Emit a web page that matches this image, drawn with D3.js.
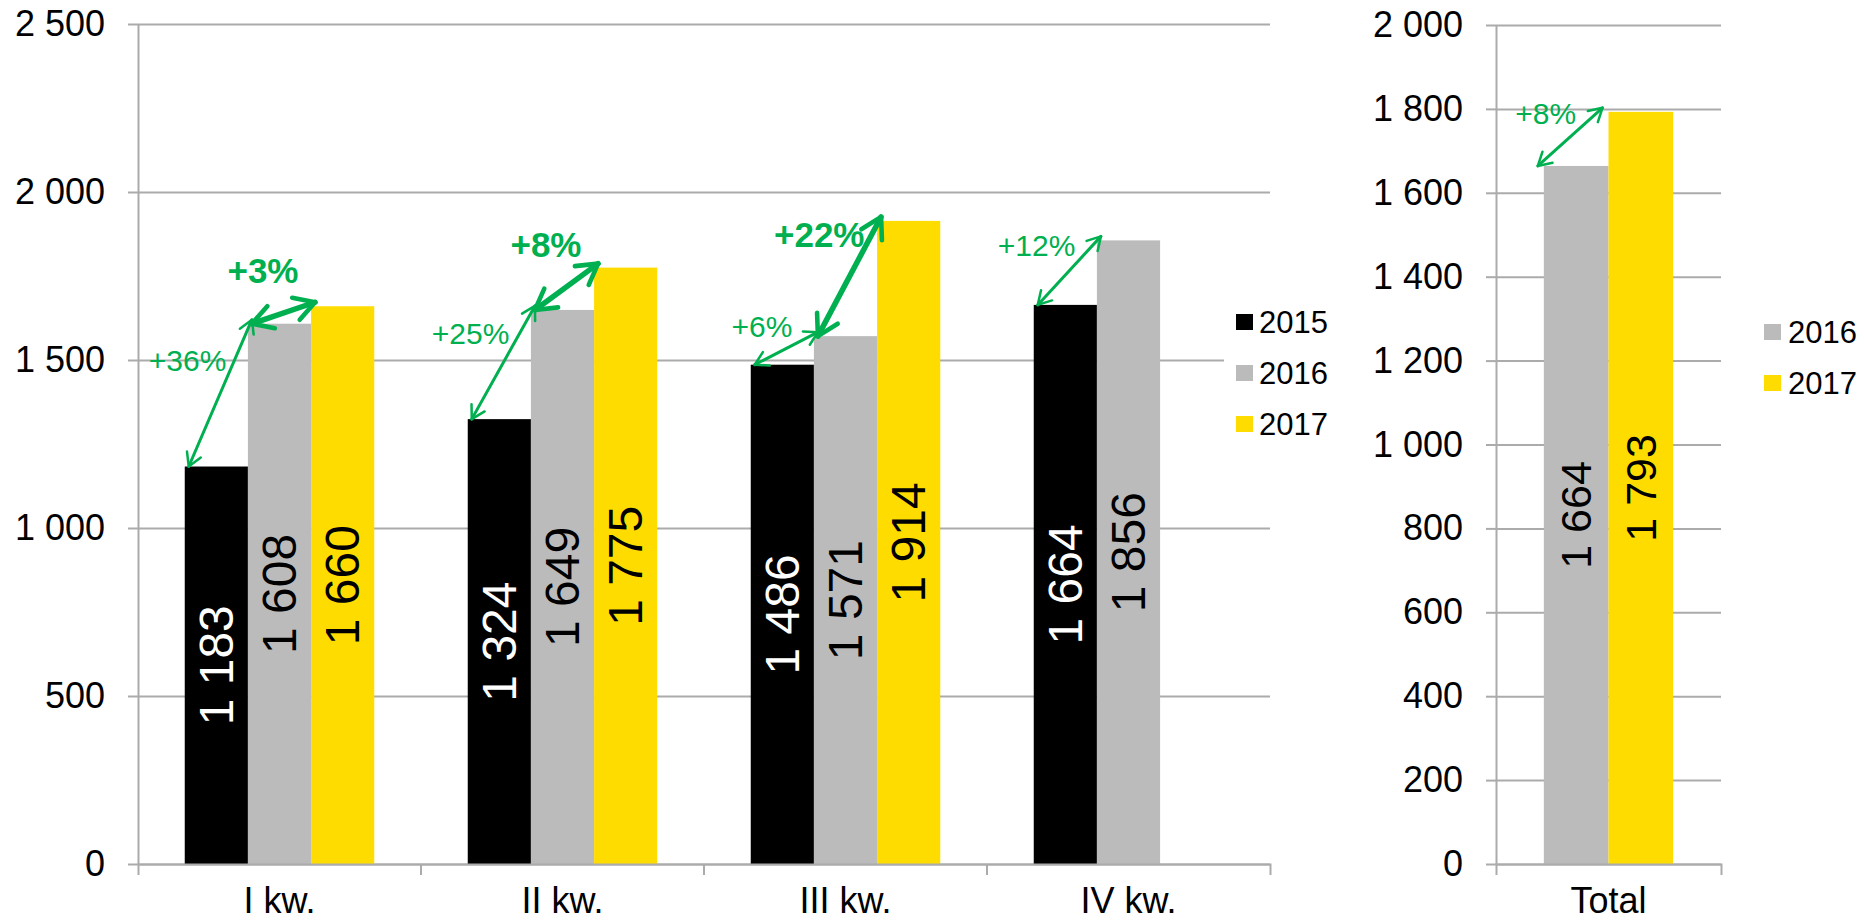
<!DOCTYPE html>
<html>
<head>
<meta charset="utf-8">
<script src="https://cdnjs.cloudflare.com/ajax/libs/d3/7.8.5/d3.min.js"></script>
<style>
  body { margin: 0; background: #fff; }
  svg { display: block; font-family: "Liberation Sans", Arial, sans-serif; }
  .grid line { stroke: #ABABAB; stroke-width: 2; }
  .grid path { display: none; }
  .axis path, .axis line, .bound { stroke: #ABABAB; stroke-width: 2; }
  .axis text { fill: #000; font-size: 36px; font-family: "Liberation Sans", Arial, sans-serif; }
  .legend text { font-size: 31px; fill: #000; }
  .change { fill: none; stroke: #00B050; stroke-linecap: round; stroke-linejoin: round; }
  .change-label { fill: #00B050; }
</style>
</head>
<body>
<div id="chart"></div>
<script>
// dane
var quarters = ["I kw.", "II kw.", "III kw.", "IV kw."];
var years = ["2015", "2016", "2017"];
var values2015 = [1183, 1324, 1486, 1664];
var values2016 = [1608, 1649, 1571, 1856];
var values2017 = [1660, 1775, 1914, null];
var leftTicks = [0, 500, 1000, 1500, 2000, 2500];

var totalCategory = ["Total"];
var totalYears = ["2016", "2017"];
var totalValues2016 = [1664];
var totalValues2017 = [1793];
var rightTicks = [0, 200, 400, 600, 800, 1000, 1200, 1400, 1600, 1800, 2000];

// strzałki: kwartał, seria od, seria do, etykieta
var quarterChanges = [
  {q: 0, from: 0, to: 1, label: "+36%", bold: false},
  {q: 0, from: 1, to: 2, label: "+3%", bold: true},
  {q: 1, from: 0, to: 1, label: "+25%", bold: false},
  {q: 1, from: 1, to: 2, label: "+8%", bold: true},
  {q: 2, from: 0, to: 1, label: "+6%", bold: false},
  {q: 2, from: 1, to: 2, label: "+22%", bold: true},
  {q: 3, from: 0, to: 1, label: "+12%", bold: false}
];
var totalChanges = [
  {q: 0, from: 0, to: 1, label: "+8%", bold: false}
];

var W = 1864, H = 922;
var svg = d3.select("#chart").append("svg").attr("width", W).attr("height", H);

var fmt = d3.formatLocale({decimal: ",", thousands: " ", grouping: [3], currency: ["", ""]}).format(",d");
var color = d3.scaleOrdinal().domain(years).range(["#000000", "#BBBBBB", "#FFDC00"]);
var labelColor = d3.scaleOrdinal().domain(years).range(["#FFFFFF", "#000000", "#000000"]);

// groty strzałek
var defs = svg.append("defs");
[["thin", 18], ["bold", 28]].forEach(function(m) {
  var L = m[1], a = Math.PI / 6;
  defs.append("marker")
    .attr("id", "head-" + m[0])
    .attr("markerUnits", "userSpaceOnUse")
    .attr("orient", "auto-start-reverse")
    .attr("markerWidth", 2 * L).attr("markerHeight", 2 * L)
    .attr("refX", 0).attr("refY", 0)
    .attr("viewBox", (-L * 1.2) + " " + (-L * 1.2) + " " + (2.4 * L) + " " + (2.4 * L))
    .style("overflow", "visible")
    .append("path")
    .attr("d", "M" + (-L * Math.cos(a)) + "," + (-L * Math.sin(a)) + " L0,0 L" + (-L * Math.cos(a)) + "," + (L * Math.sin(a)))
    .attr("fill", "none")
    .attr("stroke", "#00B050")
    .attr("stroke-width", m[0] === "bold" ? 5.5 : 3)
    .attr("stroke-linecap", "round")
    .attr("stroke-linejoin", "round");
});

function drawPanel(p) {
  var g = svg.append("g");
  var x = d3.scaleBand().domain(p.cats).range([p.box.x0, p.box.x1]);
  var xs = d3.scaleBand().domain(p.years).range([0, x.bandwidth()]).paddingInner(0).paddingOuter(0.74);
  var y = d3.scaleLinear().domain([0, p.max]).range([p.box.y0, p.box.y1]);
  var w = p.box.x1 - p.box.x0;

  var rows = p.cats.map(function(c, i) {
    return {cat: c, vals: p.years.map(function(yr, j) { return {year: yr, value: p.series[j][i]}; })};
  });

  // siatka
  g.append("g")
    .attr("class", "grid")
    .attr("transform", "translate(" + p.box.x0 + ",0)")
    .call(d3.axisLeft(y).tickValues(p.ticks).tickSize(-w).tickFormat(""));

  // słupki
  var grp = g.selectAll(".grp").data(rows).enter().append("g")
    .attr("transform", function(d) { return "translate(" + x(d.cat) + ",0)"; });

  var bars = grp.selectAll("rect")
    .data(function(d) { return d.vals.filter(function(v) { return v.value != null; }); })
    .enter();

  bars.append("rect")
    .attr("x", function(d) { return xs(d.year); })
    .attr("y", function(d) { return y(d.value); })
    .attr("width", xs.bandwidth())
    .attr("height", function(d) { return y(0) - y(d.value); })
    .attr("fill", function(d) { return color(d.year); });

  bars.append("text")
    .attr("transform", function(d) {
      var cx = xs(d.year) + xs.bandwidth() / 2, cy = (y(d.value) + y(0)) / 2;
      return "translate(" + cx + "," + cy + ") rotate(-90)";
    })
    .attr("text-anchor", "middle")
    .attr("dy", "0.35em")
    .attr("font-size", p.labelSize)
    .attr("fill", function(d) { return labelColor(d.year); })
    .text(function(d) { return fmt(d.value); });

  // oś Y
  g.append("g")
    .attr("class", "axis")
    .attr("transform", "translate(" + p.box.x0 + ",0)")
    .call(d3.axisLeft(y).tickValues(p.ticks).tickSize(10).tickSizeOuter(0).tickPadding(23).tickFormat(fmt));

  // oś X
  g.append("g")
    .attr("class", "axis")
    .attr("transform", "translate(0," + p.box.y0 + ")")
    .call(d3.axisBottom(x).tickSize(0).tickSizeOuter(11).tickPadding(23));

  g.selectAll(".bound")
    .data(p.cats.slice(1))
    .enter().append("line")
    .attr("class", "bound")
    .attr("x1", function(d) { return x(d); })
    .attr("x2", function(d) { return x(d); })
    .attr("y1", p.box.y0)
    .attr("y2", p.box.y0 + 11);

  // strzałki ze zmianą procentową
  p.changes.forEach(function(c) {
    var r = rows[c.q];
    var a = r.vals[c.from], b = r.vals[c.to];
    var x1 = x(r.cat) + xs(a.year) + p.arrowDx, y1 = y(a.value);
    var x2 = x(r.cat) + xs(b.year) + p.arrowDx, y2 = y(b.value) - 4;
    var kind = c.bold ? "bold" : "thin";
    g.append("line")
      .attr("class", "change")
      .attr("x1", x1).attr("y1", y1)
      .attr("x2", x2).attr("y2", y2)
      .attr("stroke-width", c.bold ? 5.5 : 3)
      .attr("marker-start", "url(#head-" + kind + ")")
      .attr("marker-end", "url(#head-" + kind + ")");
    var mx = (x1 + x2) / 2, my = (y1 + y2) / 2;
    var tx = mx + (c.bold ? 15 : 6);
    // dla cienkich strzałek etykieta leży tuż nad linią
    var ty = c.bold ? my - 30 : y1 + (y2 - y1) * (tx - x1) / (x2 - x1) - 8;
    g.append("text")
      .attr("class", "change-label")
      .attr("text-anchor", "end")
      .attr("x", tx)
      .attr("y", ty)
      .attr("font-size", c.bold ? 35 : 30)
      .attr("font-weight", c.bold ? "bold" : "normal")
      .text(c.label);
  });
}

drawPanel({
  cats: quarters, years: years, series: [values2015, values2016, values2017],
  ticks: leftTicks, max: 2500,
  box: {x0: 138, x1: 1270, y0: 864, y1: 24},
  labelSize: 48, changes: quarterChanges, arrowDx: 4
});

drawPanel({
  cats: totalCategory, years: totalYears, series: [totalValues2016, totalValues2017],
  ticks: rightTicks, max: 2000,
  box: {x0: 1496, x1: 1721, y0: 864, y1: 25},
  labelSize: 43, changes: totalChanges, arrowDx: -6
});

// legendy
function drawLegend(items, sx, tx, y0, step, bg) {
  var lg = svg.append("g").attr("class", "legend");
  if (bg) {
    lg.append("rect").attr("x", bg[0]).attr("y", bg[1]).attr("width", bg[2]).attr("height", bg[3]).attr("fill", "#fff");
  }
  items.forEach(function(it, i) {
    var cy = y0 + i * step;
    lg.append("rect").attr("x", sx).attr("y", cy - 8).attr("width", 17).attr("height", 16).attr("fill", color(it));
    lg.append("text").attr("x", tx).attr("y", cy).attr("dy", "0.35em").text(it);
  });
}
drawLegend(years, 1236, 1259, 322, 51, [1224, 295, 125, 155]);
drawLegend(totalYears, 1764, 1788, 332, 51, null);
</script>
</body>
</html>
